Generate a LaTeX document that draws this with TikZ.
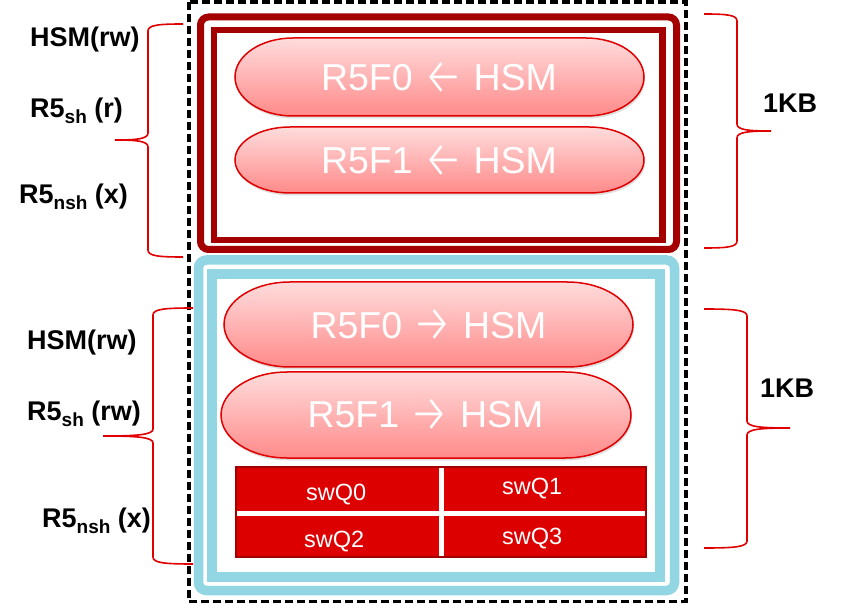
\documentclass[tikz,border=0pt]{standalone}
\usepackage{graphicx}
\usepackage{fontspec}
\setmainfont{Liberation Sans}
\newfontfamily\arrfont{Fira Sans Light}
\usetikzlibrary{shadows}
\definecolor{darkred}{HTML}{A50000}
\definecolor{cyanb}{HTML}{92D6E3}
\definecolor{pilltop}{HTML}{FFDCDC}
\definecolor{pillbot}{HTML}{FF8A8A}
\definecolor{pillline}{HTML}{E00000}
\definecolor{gridred}{HTML}{DD0000}
\definecolor{gridline}{HTML}{A00000}
\definecolor{bracered}{HTML}{E00000}
% pill: x1 y1 x2 y2 rx
\newcommand\mypill[5]{%
\path[pillshape] ({#1+#5},#2) -- ({#3-#5},#2)
 .. controls ({#3-#5+0.5523*#5},#2) and (#3,{(#2+#4)/2-0.5523*(#4-#2)/2}) .. (#3,{(#2+#4)/2})
 .. controls (#3,{(#2+#4)/2+0.5523*(#4-#2)/2}) and ({#3-#5+0.5523*#5},#4) .. ({#3-#5},#4)
 -- ({#1+#5},#4)
 .. controls ({#1+#5-0.5523*#5},#4) and (#1,{(#2+#4)/2+0.5523*(#4-#2)/2}) .. (#1,{(#2+#4)/2})
 .. controls (#1,{(#2+#4)/2-0.5523*(#4-#2)/2}) and ({#1+#5-0.5523*#5},#2) .. ({#1+#5},#2) -- cycle;}
% brace: xend xvert xtip ytop ytip ybot
\newcommand\mybrace[6]{%
\draw[bracestyle] (#1,#4) .. controls ({#2+(#1-#2)*0.3},#4) and (#2,{#4+1}) .. (#2,{#4+7})
 -- (#2,{#5-7}) .. controls (#2,{#5-1}) and ({#2-(#2-#3)*0.35},#5) .. (#3,#5)
 .. controls ({#2-(#2-#3)*0.35},#5) and (#2,{#5+1}) .. (#2,{#5+7})
 -- (#2,{#6-7}) .. controls (#2,{#6-1}) and ({#2+(#1-#2)*0.3},#6) .. (#1,#6);}
\tikzset{
 pillshape/.style={draw=pillline, line width=1.5pt, top color=pilltop, bottom color=pillbot,
   drop shadow={shadow xshift=1pt, shadow yshift=-2.5pt, opacity=0.25}},
 bracestyle/.style={draw=bracered, line width=1.6pt},
 lbl/.style={inner sep=0pt, anchor=base west, font=\fontsize{27}{30}\selectfont\bfseries},
 pilltext/.style={inner sep=0pt, anchor=base, text=white, font=\fontsize{37.5}{40}\selectfont},
 qtext/.style={inner sep=0pt, anchor=base west, text=white, font=\fontsize{23.5}{26}\selectfont},
}
\newcommand\subtx[1]{\raisebox{-6pt}{\fontsize{19}{20}\selectfont #1}}
\newcommand\arr[1]{\raisebox{-4pt}{\resizebox{40pt}{32pt}{\arrfont #1}}}
\begin{document}
\begin{tikzpicture}[x=1pt, y=-1pt]
\useasboundingbox[fill=white] (0,0) rectangle (855,604);
% outer dashed frame
\draw[black, line width=3.5pt, dash pattern=on 8pt off 4pt] (189,1.8) rectangle (686,601.5);
% top dark red box
\draw[darkred, line width=7pt, rounded corners=8pt] (200.5,17) rectangle (676.5,249.5);
\draw[darkred, line width=6.6pt] (214,30) rectangle (662.5,240);
% bottom cyan box
\draw[cyanb, line width=9.5pt, rounded corners=8pt] (198.5,260) rectangle (674.5,590.5);
\draw[cyanb, line width=9.5pt] (212,274) rectangle (660,577);
% pills
\mypill{235}{38}{644}{116}{58}
\mypill{235}{127}{644}{193}{55}
\mypill{224}{282}{633}{367}{66}
\mypill{221}{372}{631}{458}{66}
\node[pilltext] (p1) at (439,91) {R5F0 \arr{←} HSM};
\node[pilltext] (p2) at (439,174) {R5F1 \arr{←} HSM};
\node[pilltext] (p3) at (428.5,338) {R5F0 \arr{→} HSM};
\node[pilltext] (p4) at (425.5,428) {R5F1 \arr{→} HSM};
% swQ grid
\draw[fill=gridred, draw=gridline, line width=2pt] (236,467) rectangle (646,557);
\draw[white, line width=4.5pt] (441.5,468) -- (441.5,556);
\draw[white, line width=4.5pt] (237,513.5) -- (645,513.5);
\node[qtext] (q0) at (306,500) {swQ0};
\node[qtext] (q1) at (502,494) {swQ1};
\node[qtext] (q2) at (304,547) {swQ2};
\node[qtext] (q3) at (502,544) {swQ3};
% braces
\mybrace{183}{148}{115}{24}{140}{257}
\mybrace{193}{153}{103}{308}{436}{564}
\mybrace{704}{737}{771}{14}{131}{248}
\mybrace{704}{747}{790}{309}{428}{548}
% labels
\node[lbl] (l1) at (30,47) {HSM(rw)};
\node[lbl] (l2) at (30,118) {R5\subtx{sh} (r)};
\node[lbl] (l3) at (19,204) {R5\subtx{nsh} (x)};
\node[lbl] (l4) at (27,350) {HSM(rw)};
\node[lbl] (l5) at (27,420) {R5\subtx{sh} (rw)};
\node[lbl] (l6) at (42,527) {R5\subtx{nsh} (x)};
\node[lbl] (k1) at (763,113) {1KB};
\node[lbl] (k2) at (760,398) {1KB};
\end{tikzpicture}
\end{document}
